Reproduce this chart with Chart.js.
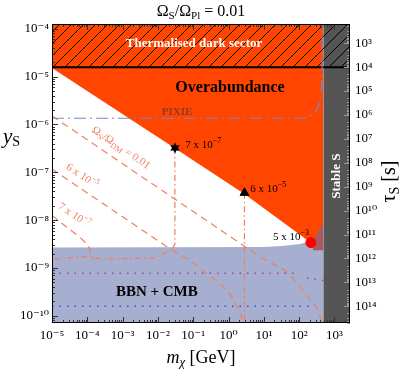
<!DOCTYPE html>
<html>
<head>
<meta charset="utf-8">
<script src="https://cdn.jsdelivr.net/npm/chart.js@4.4.0/dist/chart.umd.min.js"></script>
<style>
  html, body { margin: 0; padding: 0; background: #fff; }
</style>
</head>
<body>
<canvas id="myChart" width="399" height="381"></canvas>
<script>
// axis limits
var massRange = [1e-5, 2750];         // m_chi [GeV]
var ySRange = [7.08e-11, 1.26e-4];    // y_S
var tauRange = [158, 5.01e14];        // tau_S [s], right axis (reversed)
var massTicks = [1e-5, 1e-4, 1e-3, 1e-2, 1e-1, 1, 10, 100, 1000];
var ySTicks = [1e-10, 1e-9, 1e-8, 1e-7, 1e-6, 1e-5, 1e-4];
var tauTicks = [1e3, 1e4, 1e5, 1e6, 1e7, 1e8, 1e9, 1e10, 1e11, 1e12, 1e13, 1e14];

// region boundaries
var mStable = 480;
var yThermal = 1.58e-5;
var overM = [1e-5, 0.0302, 2.82, 214, 480];
var overY = [1.51e-5, 3.2e-7, 3.5e-8, 3.39e-9, 2.3e-9];
var bbnM = [1e-5, 10, 31.6, 107, 204, 245, 480];
var bbnY = [2.69e-9, 2.75e-9, 2.88e-9, 3.16e-9, 3.63e-9, 3.8e-9, 3.98e-9];
var overlapM = [245, 417, 480];
var overlapY = [3.8e-9, 7.41e-9, 7.94e-9];
var overlapFloor = 2.34e-9;

// PIXIE sensitivity
var pixieM = [1e-5, 129, 245, 347, 417, 447, 447];
var pixieY = [1.35e-6, 1.35e-6, 1.58e-6, 2.29e-6, 4.57e-6, 8.51e-6, 1.26e-4];

// Omega_S / Omega_DM contours
var dm001M = [1e-5, 2.88, 4.07, 9.55, 39.8, 93.3, 178, 324, 447];
var dm001Y = [1.51e-6, 2.82e-9, 2.34e-9, 1.58e-9, 8.91e-10, 4.79e-10, 2.45e-10, 1.45e-10, 7.41e-11];
var dm6e5M = [1e-5, 0.0174, 0.0219, 0.0813, 0.214, 0.661, 1.26, 2.14, 2.57];
var dm6e5Y = [1.17e-7, 2.82e-9, 2.57e-9, 1.45e-9, 8.13e-10, 4.37e-10, 2.45e-10, 1.17e-10, 7.41e-11];
var dm7e7M = [1e-5, 2.63e-5, 6.17e-5, 1.05e-4, 1.26e-4, 1.45e-4];
var dm7e7Y = [1.26e-8, 7.08e-9, 4.37e-9, 3.02e-9, 2.04e-9, 1.51e-9];

// benchmark points and their drop lines
var starM = 0.0302, starY = 3.24e-7;
var triM = 2.82, triY = 3.72e-8;
var dotM = 214, dotY = 3.39e-9;
var dropStarM = [0.0302, 0.0302, 0.0251, 0.0158, 7.24e-3, 2.29e-4, 1.2e-4, 6.17e-5, 1.7e-5, 1e-5];
var dropStarY = [3.24e-7, 3.16e-9, 2.45e-9, 2.04e-9, 1.62e-9, 1.55e-9, 1.74e-9, 1.70e-9, 1.58e-9, 1.51e-9];
var dropTriM = [2.82, 2.82];
var dropTriY = [3.72e-8, 7.08e-11];

// dotted bounds inside BBN + CMB
var purpleM = [1e-5, 87, 120, 166, 480];
var purpleY = [7.76e-10, 7.76e-10, null, 6.17e-10, 5.5e-10];
var blueM = [1e-5, 200, 245];
var blueY = [1.58e-10, 1.58e-10, 1.66e-10];

var serif = "'Liberation Serif', 'DejaVu Serif', serif";
var orange = '#FF4500';
var salmon = '#EE7F5E';

function pts(xs, ys) { return xs.map(function (x, i) { return { x: x, y: ys[i] }; }); }

var sup = { '-': '\u207B', '0': '\u2070', '1': '\u00B9', '2': '\u00B2', '3': '\u00B3', '4': '\u2074',
  '5': '\u2075', '6': '\u2076', '7': '\u2077', '8': '\u2078', '9': '\u2079' };
function powLabel(v) {
  var e = String(Math.round(Math.log10(v)));
  return '10' + e.split('').map(function (c) { return sup[c]; }).join('');
}

var ctx = document.getElementById('myChart').getContext('2d');

// hatching for the thermalised region
var hatchCv = document.createElement('canvas');
hatchCv.width = 12; hatchCv.height = 12;
var hg = hatchCv.getContext('2d');
hg.strokeStyle = '#000'; hg.lineWidth = 1;
hg.beginPath();
hg.moveTo(0, 12); hg.lineTo(12, 0);
hg.moveTo(-2, 2); hg.lineTo(2, -2);
hg.moveTo(10, 14); hg.lineTo(14, 10);
hg.stroke();
var hatch = ctx.createPattern(hatchCv, 'repeat');

// six-pointed star marker
var starCv = document.createElement('canvas');
starCv.width = 12; starCv.height = 12;
var sg = starCv.getContext('2d');
sg.fillStyle = '#000';
sg.beginPath();
for (var i = 0; i < 12; i++) {
  var a = -Math.PI / 2 + i * Math.PI / 6;
  var r = i % 2 === 0 ? 5.5 : 3;
  sg.lineTo(6 + r * Math.cos(a), 6 + r * Math.sin(a));
}
sg.closePath(); sg.fill();

function rich(c, parts, x, y, align) {
  var w = 0;
  parts.forEach(function (p) { c.font = p.f; p.w = c.measureText(p.t).width; w += p.w; });
  var cx = align === 'center' ? x - w / 2 : (align === 'right' ? x - w : x);
  c.textAlign = 'left'; c.textBaseline = 'middle';
  parts.forEach(function (p) { c.font = p.f; c.fillText(p.t, cx, y + (p.dy || 0)); cx += p.w; });
}

var decor = {
  id: 'decor',
  afterDatasetsDraw: function (chart) {
    var c = chart.ctx, a = chart.chartArea, sx = chart.scales.x, sy = chart.scales.y, st = chart.scales.y2;
    var X = function (v) { return sx.getPixelForValue(v); };
    var Y = function (v) { return sy.getPixelForValue(v); };
    c.save();

    // tick marks on all four sides
    function minors(lo, hi) {
      var out = [];
      for (var e = Math.floor(Math.log10(lo)); e <= Math.ceil(Math.log10(hi)); e++) {
        for (var k = 1; k < 10; k++) {
          var v = k * Math.pow(10, e);
          if (v >= lo && v <= hi) out.push({ v: v, major: k === 1 });
        }
      }
      return out;
    }
    c.lineWidth = 1;
    c.strokeStyle = '#333';
    minors(massRange[0], massRange[1]).forEach(function (t) {
      var px = Math.round(X(t.v)) + 0.5, L = t.major ? 6 : 3;
      c.beginPath();
      c.moveTo(px, a.bottom); c.lineTo(px, a.bottom - L);
      c.moveTo(px, a.top); c.lineTo(px, a.top + L);
      c.stroke();
    });
    minors(ySRange[0], ySRange[1]).forEach(function (t) {
      var py = Math.round(Y(t.v)) + 0.5, L = t.major ? 6 : 3;
      c.beginPath(); c.moveTo(a.left, py); c.lineTo(a.left + L, py); c.stroke();
    });
    c.strokeStyle = '#9a9a9a';
    minors(tauRange[0], tauRange[1]).forEach(function (t) {
      var py = Math.round(st.getPixelForValue(t.v)) + 0.5, L = t.major ? 6 : 3;
      c.beginPath(); c.moveTo(a.right, py); c.lineTo(a.right - L, py); c.stroke();
    });
    c.strokeStyle = '#000';
    c.strokeRect(a.left + 0.5, a.top + 0.5, a.right - a.left - 1, a.bottom - a.top - 1);

    // region labels
    c.fillStyle = '#fff';
    rich(c, [{ t: 'Thermalised dark sector', f: 'bold 13px ' + serif }], X(0.105), Y(5.0e-5), 'center');
    c.fillStyle = '#000';
    rich(c, [{ t: 'Overabundance', f: 'bold 16px ' + serif }], X(1.1), Y(5.75e-6), 'center');
    rich(c, [{ t: 'BBN + CMB', f: 'bold 15px ' + serif }], X(9.3e-3), Y(3.09e-10), 'center');
    c.fillStyle = '#8C3A28';
    rich(c, [{ t: 'PIXIE', f: 'bold 11px ' + serif }], X(0.0347), Y(1.82e-6), 'center');

    c.save();
    c.translate(X(1120), Y(8.3e-8));
    c.rotate(-Math.PI / 2);
    c.fillStyle = '#fff';
    rich(c, [{ t: 'Stable S', f: 'bold 13px ' + serif }], 0, 0, 'center');
    c.restore();

    // contour labels
    var ang = Math.atan(0.5 * (Y(1e-8) - Y(1e-7)) / (X(10) - X(1)));
    c.fillStyle = salmon;
    [[8.9e-4, 3.24e-7, [{ t: '\u03A9', f: '11px ' + serif }, { t: 'S', f: '8px ' + serif, dy: 3 },
      { t: '/\u03A9', f: '11px ' + serif }, { t: 'DM', f: '8px ' + serif, dy: 3 }, { t: ' = 0.01', f: '11px ' + serif }]],
     [7.1e-5, 8.3e-8, [{ t: '6 x 10', f: '11px ' + serif }, { t: '\u22125', f: '8px ' + serif, dy: -4 }]],
     [4.2e-5, 1.26e-8, [{ t: '7 x 10', f: '11px ' + serif }, { t: '\u22127', f: '8px ' + serif, dy: -4 }]]
    ].forEach(function (l) {
      c.save();
      c.translate(X(l[0]), Y(l[1]));
      c.rotate(ang);
      rich(c, l[2], 0, 0, 'center');
      c.restore();
    });

    // benchmark labels
    c.fillStyle = '#000';
    rich(c, [{ t: '7 x 10', f: '11px ' + serif }, { t: '\u22127', f: '8px ' + serif, dy: -4 }], X(0.059), Y(3.7e-7), 'left');
    rich(c, [{ t: '6 x 10', f: '11px ' + serif }, { t: '\u22125', f: '8px ' + serif, dy: -4 }], X(4.1), Y(4.5e-8), 'left');
    rich(c, [{ t: '5 x 10', f: '11px ' + serif }, { t: '\u22123', f: '8px ' + serif, dy: -4 }], X(190), Y(4.4e-9), 'right');

    c.restore();
  },
  afterDraw: function (chart) {
    var c = chart.ctx, a = chart.chartArea;
    c.save();
    c.fillStyle = '#000';
    rich(c, [{ t: '\u03A9', f: '16px ' + serif }, { t: 'S', f: '11px ' + serif, dy: 4 },
      { t: '/\u03A9', f: '16px ' + serif }, { t: 'Pl', f: '11px ' + serif, dy: 4 },
      { t: ' = 0.01', f: '16px ' + serif }], (a.left + a.right) / 2, 12, 'center');
    rich(c, [{ t: 'm', f: 'italic 18px ' + serif }, { t: '\u03C7', f: 'italic 13px ' + serif, dy: 5 },
      { t: ' [GeV]', f: '18px ' + serif }], (a.left + a.right) / 2, 358, 'center');
    rich(c, [{ t: 'y', f: 'italic 21px ' + serif }, { t: 'S', f: '14px ' + serif, dy: 5 }], 3, 137, 'left');
    c.save();
    c.translate(390, (a.top + a.bottom) / 2 + 8);
    c.rotate(-Math.PI / 2);
    rich(c, [{ t: '\u03C4', f: '20px ' + serif }, { t: 'S', f: '14px ' + serif, dy: 5 },
      { t: ' [s]', f: '20px ' + serif }], 0, 0, 'center');
    c.restore();
    c.restore();
  }
};

function region(data, color, fill, order) {
  return { data: data, backgroundColor: color, borderWidth: 0, pointRadius: 0, fill: fill, order: order };
}
function curve(data, color, width, dash, order) {
  return { data: data, borderColor: color, borderWidth: width, borderDash: dash, pointRadius: 0, fill: false, order: order };
}

var myChart = new Chart(ctx, {
  type: 'line',
  data: {
    datasets: [
      region(pts(overM, overY), orange, 'end', 20),
      region(pts([massRange[0], mStable], [yThermal, yThermal]), orange, 'end', 19),
      region(pts(bbnM, bbnY), '#A7AFD0', 'start', 18),
      region(pts(overlapM, overlapY), '#A85A5E', { value: overlapFloor }, 17),
      region(pts([mStable, massRange[1]], [ySRange[1], ySRange[1]]), '#555555', 'start', 16),
      { data: pts([massRange[0], massRange[1]], [yThermal, yThermal]), backgroundColor: hatch,
        borderColor: '#000', borderWidth: 2, pointRadius: 0, fill: 'end', order: 15 },
      curve(pts(purpleM, purpleY), '#9B3FB0', 1.5, [1.5, 6], 10),
      curve(pts(blueM, blueY), '#3B4FE0', 1.5, [1.5, 6], 10),
      curve(pts(dm001M, dm001Y), salmon, 1.2, [7, 5], 9),
      curve(pts(dm6e5M, dm6e5Y), salmon, 1.2, [7, 5], 9),
      curve(pts(dm7e7M, dm7e7Y), salmon, 1.2, [7, 5], 9),
      curve(pts(dropStarM, dropStarY), salmon, 1.2, [6, 3, 1.5, 3], 8),
      curve(pts(dropTriM, dropTriY), salmon, 1.2, [6, 3, 1.5, 3], 8),
      curve(pts(pixieM, pixieY), '#7B87C4', 1.2, [12, 4, 2, 4], 7),
      { data: [{ x: starM, y: starY }], pointStyle: starCv, pointRadius: 6, showLine: false, order: 1 },
      { data: [{ x: triM, y: triY }], pointStyle: 'triangle', pointRadius: 5, backgroundColor: '#000',
        borderColor: '#000', showLine: false, order: 1 },
      { data: [{ x: dotM, y: dotY }], pointStyle: 'circle', pointRadius: 5, backgroundColor: '#FF0000',
        borderColor: '#FF0000', showLine: false, order: 1 }
    ]
  },
  options: {
    responsive: false,
    animation: false,
    events: [],
    devicePixelRatio: 1,
    layout: { padding: { top: 24, left: 0, right: 0, bottom: 0 } },
    elements: { line: { tension: 0 } },
    plugins: { legend: { display: false }, tooltip: { enabled: false } },
    scales: {
      x: {
        type: 'logarithmic', position: 'bottom', min: massRange[0], max: massRange[1],
        afterBuildTicks: function (s) { s.ticks = massTicks.map(function (v) { return { value: v }; }); },
        afterFit: function (s) { s.height = 58; },
        ticks: { callback: powLabel, autoSkip: false, maxRotation: 0, padding: 5, color: '#000',
          font: { family: serif, size: 13 } },
        grid: { display: false, drawTicks: false }, border: { display: false }
      },
      y: {
        type: 'logarithmic', position: 'left', min: ySRange[0], max: ySRange[1],
        afterBuildTicks: function (s) { s.ticks = ySTicks.map(function (v) { return { value: v }; }); },
        afterFit: function (s) { s.width = 52; },
        ticks: { callback: powLabel, autoSkip: false, padding: 3, color: '#000',
          font: { family: serif, size: 13 } },
        grid: { display: false, drawTicks: false }, border: { display: false }
      },
      y2: {
        type: 'logarithmic', position: 'right', reverse: true, min: tauRange[0], max: tauRange[1],
        afterBuildTicks: function (s) { s.ticks = tauTicks.map(function (v) { return { value: v }; }); },
        afterFit: function (s) { s.width = 49; },
        ticks: { callback: powLabel, autoSkip: false, padding: 5, color: '#000',
          font: { family: serif, size: 13 } },
        grid: { display: false, drawTicks: false }, border: { display: false }
      }
    }
  },
  plugins: [decor]
});
</script>
</body>
</html>
